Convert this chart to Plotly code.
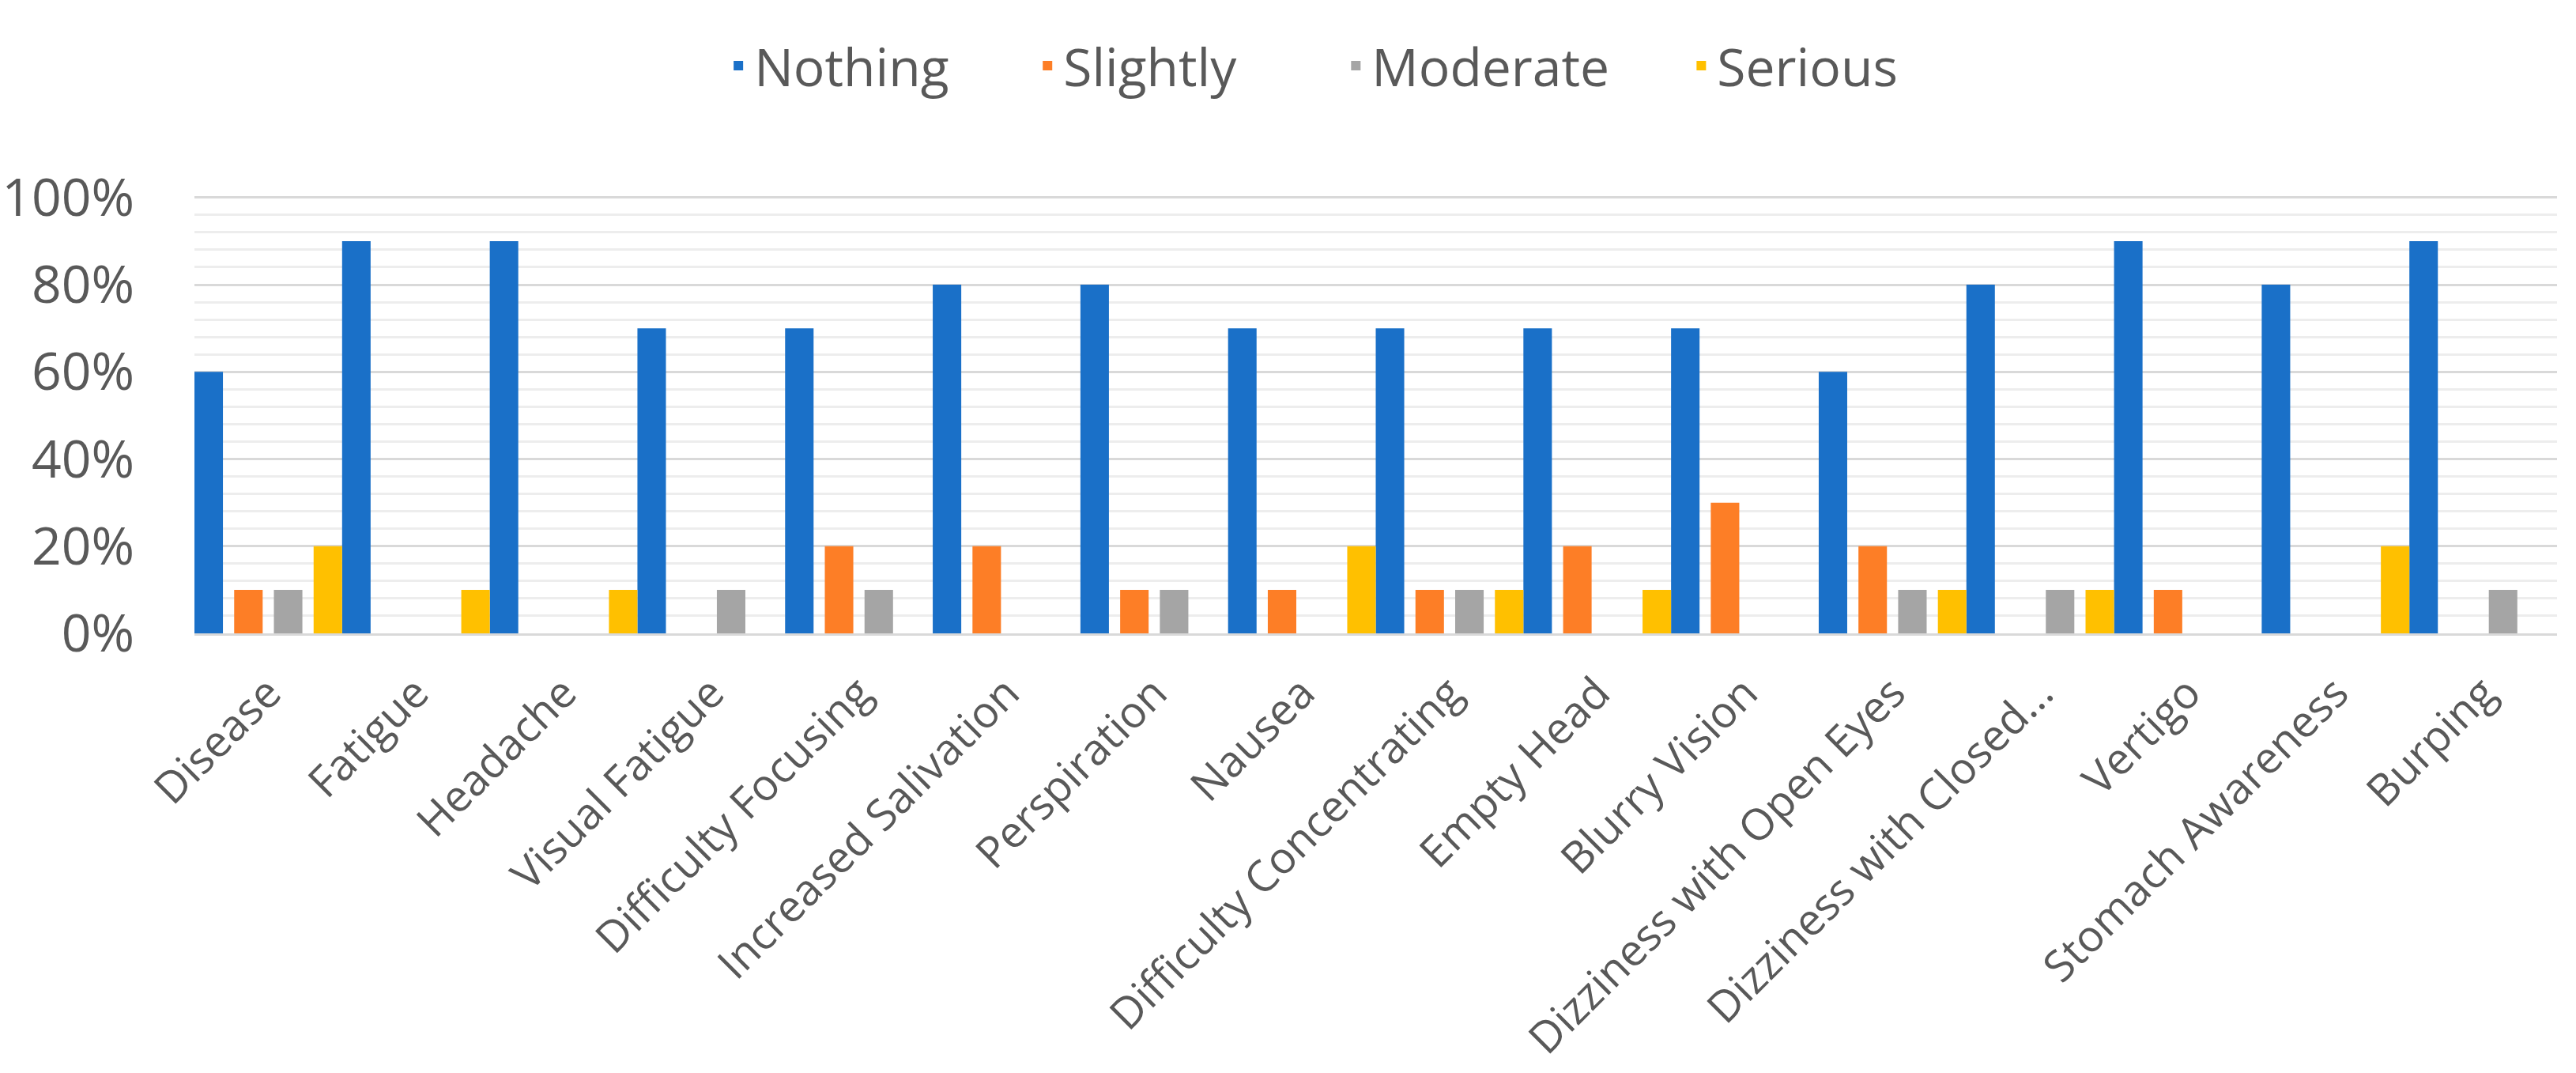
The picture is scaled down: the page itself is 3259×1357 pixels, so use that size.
import plotly.graph_objects as go

categories = ["Disease", "Fatigue", "Headache", "Visual Fatigue", "Difficulty Focusing",
              "Increased Salivation", "Perspiration", "Nausea", "Difficulty Concentrating",
              "Empty Head", "Blurry Vision", "Dizziness with Open Eyes",
              "Dizziness with Closed...", "Vertigo", "Stomach Awareness", "Burping"]
series_names = ["Nothing", "Slightly", "Moderate", "Serious"]
nothing = [0.6, 0.9, 0.9, 0.7, 0.7, 0.8, 0.8, 0.7, 0.7, 0.7, 0.7, 0.6, 0.8, 0.9, 0.8, 0.9]
slightly = [0.1, 0, 0, 0, 0.2, 0.2, 0.1, 0.1, 0.1, 0.2, 0.3, 0.2, 0, 0.1, 0, 0]
moderate = [0.1, 0, 0, 0.1, 0.1, 0, 0.1, 0, 0.1, 0, 0, 0.1, 0.1, 0, 0, 0.1]
serious = [0.2, 0.1, 0.1, 0, 0, 0, 0, 0.2, 0.1, 0.1, 0, 0.1, 0.1, 0, 0.2, 0]
y_ticks = [0, 0.2, 0.4, 0.6, 0.8, 1.0]

colors = ["#1a70c8", "#fd7e26", "#a5a5a5", "#ffc000"]
values = [nothing, slightly, moderate, serious]
offsets = [-0.5, -0.231, 0.038, 0.307]
legend_ids = ["legend", "legend2", "legend3", "legend4"]
legend_x = [0.2805, 0.4005, 0.5202, 0.6543]

FONT = "Open Sans"
TXT = "#595959"

fig = go.Figure()
for name, vals, col, off, lg in zip(series_names, values, colors, offsets, legend_ids):
    fig.add_trace(go.Bar(
        x=categories, y=vals, name=name,
        marker=dict(color=col, line=dict(width=0)),
        width=0.193, offset=off, legend=lg,
    ))

layout_legends = {}
for lg, lx in zip(legend_ids, legend_x):
    layout_legends[lg] = dict(
        x=lx, y=0.9388, xref="container", yref="container",
        xanchor="left", yanchor="middle",
        orientation="h", font=dict(family=FONT, size=66, color=TXT),
        bgcolor="rgba(0,0,0,0)",
    )

fig.update_layout(
    width=3259, height=1357,
    margin=dict(l=246, r=24, t=247, b=556, autoexpand=False),
    paper_bgcolor="white", plot_bgcolor="white",
    barmode="overlay",
    showlegend=True,
    font=dict(family=FONT, color=TXT),
    **layout_legends,
)
fig.update_xaxes(
    type="category", automargin=False,
    tickangle=-45,
    tickfont=dict(family=FONT, size=55, color=TXT),
    showline=True, linecolor="#d9d9d9", linewidth=3,
    showgrid=False, ticks="",
    ticklabelstandoff=18,
)
fig.update_yaxes(
    range=[0, 1.005], tickvals=y_ticks, tickformat=".0%", automargin=False,
    tickfont=dict(family=FONT, size=66, color=TXT),
    showgrid=True, gridcolor="#d9d9d9", gridwidth=3,
    minor=dict(dtick=0.04, showgrid=True, gridcolor="#ededed", gridwidth=3),
    zeroline=False, showline=False, ticks="",
    ticklabelstandoff=75,
)

fig.write_html("out.html",
               config={"displayModeBar": False},
               post_script="document.body.style.margin='0';document.body.style.overflow='hidden';")
